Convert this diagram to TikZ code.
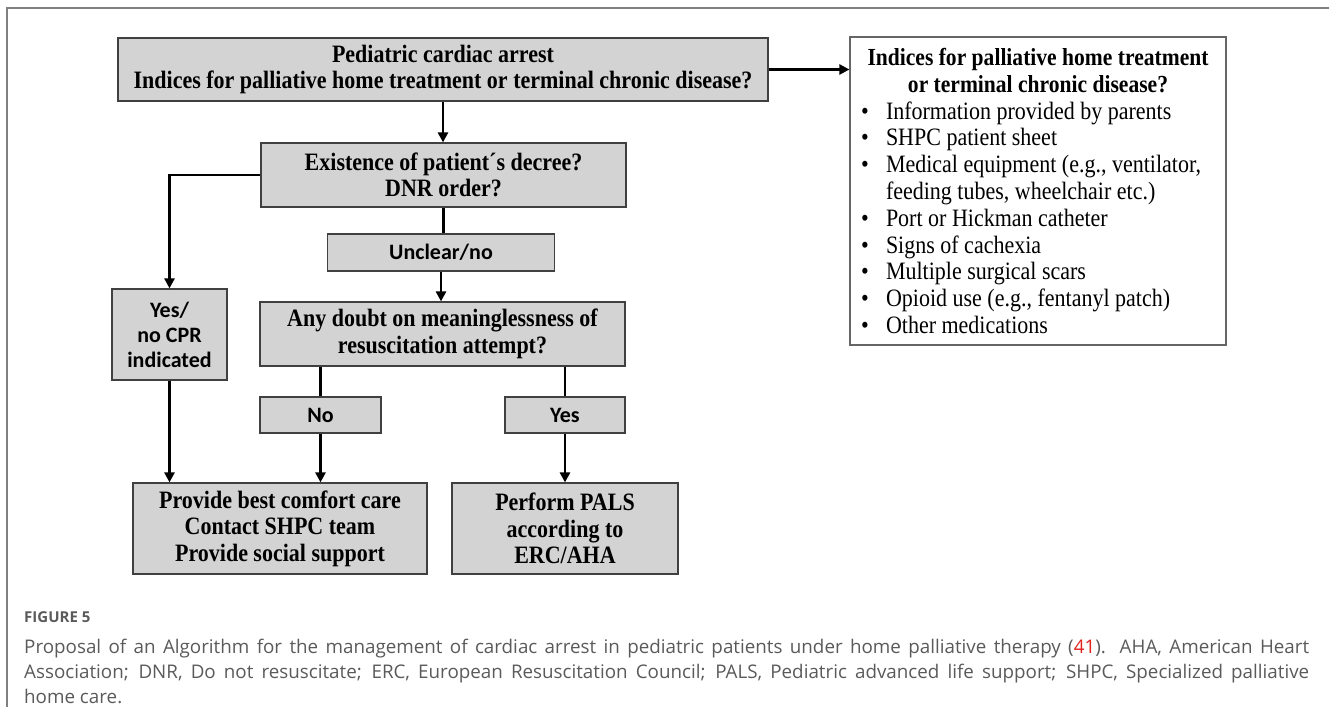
\documentclass[tikz,border=0pt]{standalone}
\usepackage{fontspec}
\usepackage{xcolor}
\usetikzlibrary{arrows.meta}
\setmainfont{Liberation Serif}[FakeStretch=0.88]
\newfontfamily\calib{Carlito}
\newfontfamily\capfont{Open Sans}
\definecolor{boxgray}{HTML}{D3D3D3}
\definecolor{edgegray}{HTML}{404040}
\definecolor{capgray}{HTML}{5A5A5A}
\definecolor{refred}{HTML}{E0201B}
\newcommand{\bul}{\makebox[28pt][l]{\hspace{3pt}\textbullet}}

\begin{document}
\begin{tikzpicture}[x=1pt, y=-1pt, >={Triangle[length=10pt,width=10pt]},
    box/.style={draw=edgegray, line width=1.2pt, fill=boxgray, inner sep=0pt, align=center,
      font=\fontsize{25}{26.5}\selectfont\bfseries},
    lbl/.style={box, font=\calib\fontsize{22}{25}\selectfont\bfseries},
    link/.style={line width=2.6pt}]
    \useasboundingbox (0,0) rectangle (1329,707);
    % 外框
    \draw[gray, line width=1.2pt] (7,707) -- (7,8) -- (1329,8);
    % 节点
    \node[box, minimum width=650pt, minimum height=63pt] (T) at (443,69.5)
      {Pediatric cardiac arrest\\Indices for palliative home treatment or terminal chronic disease?};
    \node[box, minimum width=365pt, minimum height=64pt] (E) at (443.5,175)
      {Existence of patient´s decree?\\DNR order?};
    \node[lbl, minimum width=227pt, minimum height=37pt] (U) at (441,252.5) {Unclear/no};
    \node[box, minimum width=365pt, minimum height=64pt] (A) at (442.5,334)
      {Any doubt on meaninglessness of\\resuscitation attempt?};
    \node[lbl, minimum width=115pt, minimum height=91pt] (Y) at (169.5,334.5)
      {Yes/\\no CPR\\indicated};
    \node[lbl, minimum width=121pt, minimum height=36pt] (N) at (320.5,415) {No};
    \node[lbl, minimum width=120pt, minimum height=36pt] (S) at (565,415) {Yes};
    \node[box, minimum width=294pt, minimum height=91pt] (P) at (280,528.5)
      {Provide best comfort care\\Contact SHPC team\\Provide social support};
    \node[box, minimum width=226pt, minimum height=91pt] (R) at (565,528.5)
      {Perform PALS\\according to\\ERC/AHA};
    \node[draw=edgegray!80, line width=1.2pt, minimum width=376pt, minimum height=308pt,
      inner xsep=8pt, inner ysep=0pt, align=left,
      font=\fontsize{25}{26.8}\selectfont] (I) at (1038,191) {%
      \makebox[360pt][c]{\fontsize{24.5}{26.8}\selectfont\bfseries Indices for palliative home treatment}\\
      \makebox[360pt][c]{\fontsize{24.5}{26.8}\selectfont\bfseries or terminal chronic disease?}\\
      \bul Information provided by parents\\
      \bul SHPC patient sheet\\
      \bul Medical equipment (e.g., ventilator,\\
      \hspace*{28pt}feeding tubes, wheelchair etc.)\\
      \bul Port or Hickman catheter\\
      \bul Signs of cachexia\\
      \bul Multiple surgical scars\\
      \bul Opioid use (e.g., fentanyl patch)\\
      \bul Other medications};
    % 图注
    \node[anchor=base west, inner sep=0pt, text=capgray,
      font=\capfont\fontsize{15}{18}\selectfont\bfseries] (F) at (24,622) {FIGURE 5};
    \node[anchor=base west, inner sep=0pt, text width=1285pt, align=justify, text=capgray,
      font=\capfont\fontsize{18.8}{25}\selectfont] (C) at (24,653)
      {Proposal of an Algorithm for the management of cardiac arrest in pediatric patients under home palliative therapy (\textcolor{refred}{41}). AHA, American Heart\linebreak
      Association; DNR, Do not resuscitate; ERC, European Resuscitation Council; PALS, Pediatric advanced life support; SHPC, Specialized palliative\linebreak
      home care.};
    % 箭头
    \draw[link, ->] (T.east) -- (T.east -| I.west);
    \draw[link, ->] (T.south) -- (T.south |- E.north);
    \draw[link] (E.south) -- (E.south |- U.north);
    \draw[link, ->] (E.west) -| (Y.north);
    \draw[link, ->] (U.south) -- (U.south |- A.north);
    \draw[link] (A.south -| N.north) -- (N.north);
    \draw[link] (A.south -| S.north) -- (S.north);
    \draw[link, ->] (Y.south) -- (Y.south |- P.north);
    \draw[link, ->] (N.south) -- (N.south |- P.north);
    \draw[link, ->] (S.south) -- (R.north);
\end{tikzpicture}
\end{document}
